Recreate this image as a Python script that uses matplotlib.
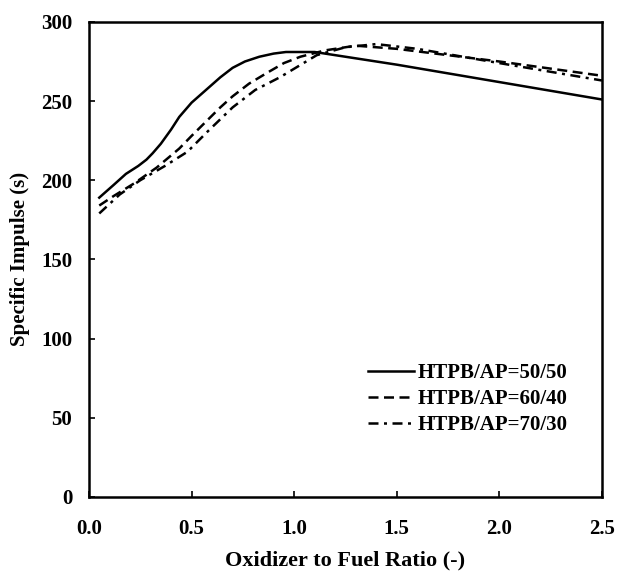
import matplotlib
matplotlib.use('Agg')
import numpy as np
import matplotlib.pyplot as plt

# data
of_5050 = [0.05, 0.12, 0.18, 0.24, 0.28, 0.31, 0.35, 0.40, 0.44, 0.50, 0.57, 0.64, 0.70,
           0.76, 0.83, 0.90, 0.96, 1.03, 1.10, 1.50, 2.00, 2.50]
isp_5050 = [189, 197, 204, 209, 213, 217, 223, 232, 240, 249, 257, 265, 271,
            275, 278, 280, 281, 281, 281, 273, 262, 251]

of_6040 = [0.05, 0.12, 0.22, 0.33, 0.44, 0.50, 0.57, 0.64, 0.70, 0.78, 0.87, 0.95, 1.03,
           1.15, 1.30, 1.50, 2.00, 2.50]
isp_6040 = [184, 190, 198, 208, 220, 228, 237, 246, 253, 261, 268, 274, 278,
            282, 285, 283, 275, 266]

of_7030 = [0.05, 0.15, 0.25, 0.37, 0.48, 0.58, 0.70, 0.81, 0.93, 1.02, 1.11, 1.25, 1.40,
           1.60, 2.00, 2.50]
isp_7030 = [179, 191, 200, 209, 218, 231, 246, 257, 265, 272, 279, 284, 286,
            283, 274, 263]

labels = ['HTPB/AP=50/50', 'HTPB/AP=60/40', 'HTPB/AP=70/30']

plt.rcParams['font.family'] = ['Liberation Serif', 'DejaVu Serif']
plt.rcParams['font.weight'] = 'bold'

fig = plt.figure(figsize=(6.18, 5.77), dpi=100)
ax = fig.add_axes([0.144, 0.139, 0.830, 0.823])

ax.plot(of_5050, isp_5050, color='black', linestyle='-', linewidth=1.8, label=labels[0])
ax.plot(of_6040, isp_6040, color='black', linestyle=(0, (4, 2.2)), linewidth=1.8, label=labels[1])
ax.plot(of_7030, isp_7030, color='black', linestyle=(0, (4, 2.2, 1.2, 2.2)), linewidth=1.8, label=labels[2])

ax.set_xlim(0, 2.5)
ax.set_ylim(0, 300)
ax.set_xticks([0.0, 0.5, 1.0, 1.5, 2.0, 2.5])
ax.set_yticks([0, 50, 100, 150, 200, 250, 300])
ax.set_xticklabels(['0.0', '0.5', '1.0', '1.5', '2.0', '2.5'])
ax.tick_params(direction='in', length=4, width=1.2, labelsize=15)
ax.tick_params(axis='x', pad=16)
ax.tick_params(axis='y', pad=12)
for lab in ax.get_xticklabels() + ax.get_yticklabels():
    lab.set_fontweight('bold')
for sp in ax.spines.values():
    sp.set_linewidth(1.8)

ax.set_xlabel('Oxidizer to Fuel Ratio (-)', fontsize=16, fontweight='bold', labelpad=8)
ax.set_ylabel('Specific Impulse (s)', fontsize=15, fontweight='bold', labelpad=8)

leg = ax.legend(loc='lower right', bbox_to_anchor=(0.97, 0.09), frameon=False,
                fontsize=15, handlelength=2.2, handletextpad=0.2, labelspacing=0.3)
for t in leg.get_texts():
    t.set_fontweight('bold')

fig.savefig('out.png', dpi=100)
